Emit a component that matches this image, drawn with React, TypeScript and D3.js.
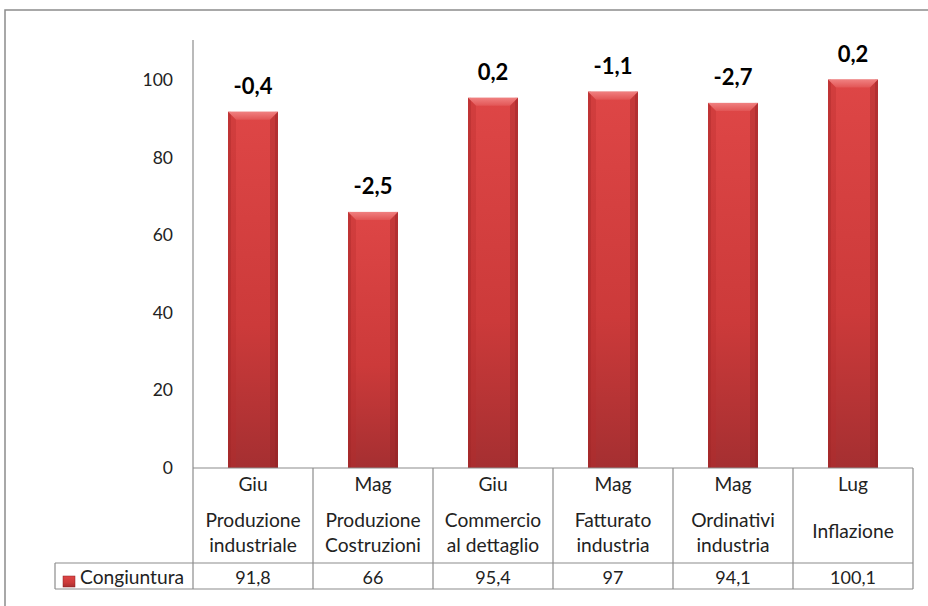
import React from "react";
import * as d3 from "d3";

const months = ["Giu", "Mag", "Giu", "Mag", "Mag", "Lug"];
const categories = [
  ["Produzione", "industriale"],
  ["Produzione", "Costruzioni"],
  ["Commercio", "al dettaglio"],
  ["Fatturato", "industria"],
  ["Ordinativi", "industria"],
  ["Inflazione"],
];
const values = [91.8, 66, 95.4, 97, 94.1, 100.1];
const valueLabels = ["91,8", "66", "95,4", "97", "94,1", "100,1"];
const changes = ["-0,4", "-2,5", "0,2", "-1,1", "-2,7", "0,2"];
const yTicks = [0, 20, 40, 60, 80, 100];
const seriesName = "Congiuntura";

const W = 928, H = 606;
const plotLeft = 193, plotRight = 913;
const y0 = 468, yTop = 40;
const FONT = "Lato, 'Open Sans', sans-serif";

export default function App() {
  const x = d3.scaleBand<number>().domain(d3.range(values.length)).range([plotLeft, plotRight]).paddingInner(0).paddingOuter(0);
  const y = d3.scaleLinear().domain([0, 110]).range([y0, y0 - 110 * 3.88]);
  const bw = 50;
  const bev = 8;
  const rowTop = y0, rowMid = 563, rowBot = 589;
  const grid = "#8c8c8c";
  const fsAxis = 17.5;
  const fsWord = 19.2;
  const fsNum = 18;
  return (
    <svg width={W} height={H} style={{ position: "absolute", left: 0, top: 0, background: "#fff" }} fontFamily={FONT}>
      <defs>
        <linearGradient id="barV" x1="0" y1="0" x2="0" y2="1">
          <stop offset="0" stopColor="#de4646" />
          <stop offset="0.6" stopColor="#cc3a3a" />
          <stop offset="1" stopColor="#a52f31" />
        </linearGradient>
        <linearGradient id="topBev" x1="0" y1="0" x2="0" y2="1">
          <stop offset="0" stopColor="#f08080" />
          <stop offset="1" stopColor="#e25555" />
        </linearGradient>
      </defs>
      <rect x={5} y={10} width={1000} height={1000} fill="#fff" stroke={grid} strokeWidth={1.5} />
      {/* y axis */}
      <line x1={plotLeft} x2={plotLeft} y1={yTop} y2={y0} stroke={grid} strokeWidth={1.2} />
      {yTicks.map((t) => (
        <text key={t} x={173} y={y(t) + 6} fontSize={fsAxis} textAnchor="end" fill="#222">{t}</text>
      ))}
      {/* bars */}
      {values.map((v, i) => {
        const cx = (x(i) as number) + x.bandwidth() / 2;
        const bx = cx - bw / 2;
        const by = y(v);
        const bh = y0 - by;
        return (
          <g key={i}>
            <rect x={bx} y={by} width={bw} height={bh} fill="url(#barV)" />
            <rect x={bx} y={by} width={3} height={bh} fill="#8a1f22" opacity={0.3} />
            <rect x={bx + bw - 3} y={by} width={3} height={bh} fill="#8a1f22" opacity={0.3} />
            <polygon points={`${bx},${by} ${bx + bw},${by} ${bx + bw - bev},${by + bev} ${bx + bev},${by + bev}`} fill="url(#topBev)" />
            <polygon points={`${bx},${by} ${bx + bev},${by + bev} ${bx + bev},${y0} ${bx},${y0}`} fill="#b52a2c" opacity={0.3} />
            <polygon points={`${bx + bw},${by} ${bx + bw - bev},${by + bev} ${bx + bw - bev},${y0} ${bx + bw},${y0}`} fill="#8a1f22" opacity={0.3} />
            <text x={cx} y={by - 18} textAnchor="middle" fontSize={22} fontWeight="bold" fill="#000">{changes[i]}</text>
          </g>
        );
      })}
      {/* table */}
      <g stroke={grid} strokeWidth={1.2} fill="none">
        <line x1={plotLeft} x2={plotRight} y1={rowTop} y2={rowTop} />
        <line x1={55} x2={plotRight} y1={rowMid} y2={rowMid} />
        <line x1={55} x2={plotRight} y1={rowBot} y2={rowBot} />
        <line x1={55} x2={55} y1={rowMid} y2={rowBot} />
        {d3.range(values.length + 1).map((i) => {
          const xx = i < values.length ? (x(i) as number) : plotRight;
          return <line key={i} x1={xx} x2={xx} y1={rowTop} y2={rowBot} />;
        })}
      </g>
      {values.map((v, i) => {
        const cx = (x(i) as number) + x.bandwidth() / 2;
        const lines = categories[i];
        return (
          <g key={i} fontSize={fsWord} fill="#222" textAnchor="middle">
            <text x={cx} y={491}>{months[i]}</text>
            {lines.length === 2 ? (
              <>
                <text x={cx} y={527}>{lines[0]}</text>
                <text x={cx} y={552}>{lines[1]}</text>
              </>
            ) : (
              <text x={cx} y={538}>{lines[0]}</text>
            )}
            <text x={cx} y={584} fontSize={fsNum}>{valueLabels[i]}</text>
          </g>
        );
      })}
      <rect x={63} y={576} width={12} height={11} fill="url(#barV)" stroke="#8a1f22" strokeWidth={0.5} />
      <text x={80} y={584} fontSize={fsWord} fill="#222">{seriesName}</text>
    </svg>
  );
}
